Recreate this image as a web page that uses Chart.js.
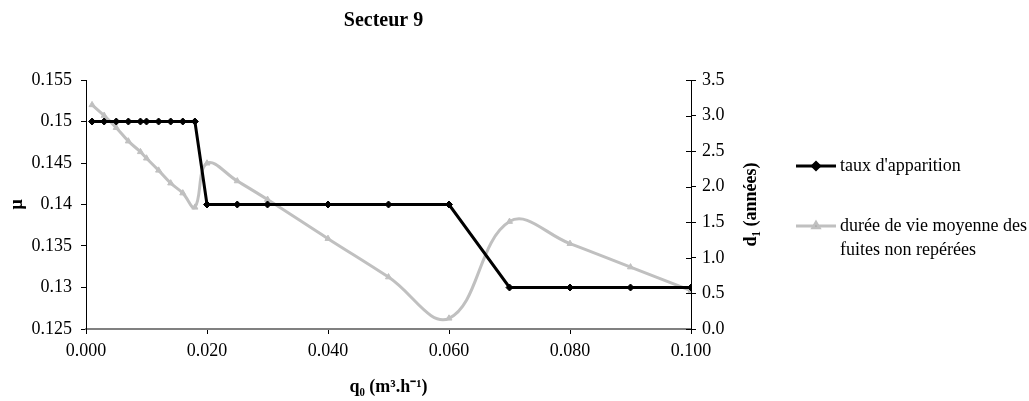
<!DOCTYPE html>
<html lang="fr">
  <head>
    <meta charset="UTF-8" />
    <title>Secteur 9</title>
    <script src="https://cdn.jsdelivr.net/npm/chart.js"></script>
    <style>
      body {
        margin: 0;
        background: #fff;
      }
      #box {
        width: 1029px;
        height: 401px;
        position: relative;
      }
    </style>
  </head>

  <body>
    <div id="box">
      <canvas id="secteurChart"></canvas>
    </div>

    <script>
      // débit q0 (m3/h)
      const q0 = [0.001, 0.003, 0.005, 0.007, 0.009, 0.010, 0.012, 0.014, 0.016, 0.018,
                  0.020, 0.025, 0.030, 0.040, 0.050, 0.060, 0.070, 0.080, 0.090, 0.100];
      // taux d'apparition (axe gauche)
      const taux = [0.15, 0.15, 0.15, 0.15, 0.15, 0.15, 0.15, 0.15, 0.15, 0.15,
                    0.14, 0.14, 0.14, 0.14, 0.14, 0.14, 0.13, 0.13, 0.13, 0.13];
      // durée de vie moyenne (axe droit, années)
      const duree = [3.15, 3.00, 2.83, 2.64, 2.49, 2.40, 2.23, 2.05, 1.91, 1.71,
                     2.33, 2.08, 1.82, 1.27, 0.73, 0.15, 1.51, 1.20, 0.87, 0.54];

      const legendLines = [["taux d'apparition"], ["durée de vie moyenne des", "fuites non repérées"]];
      const rightTitle = "d₁ (années)";

      const serif = "'Liberation Serif', 'Times New Roman', serif";

      // légende, titre de l'axe droit (lu de bas en haut) et graduations croisées
      const extras = {
        id: "extras",
        afterDraw(chart) {
          const ctx = chart.ctx;
          const yR = chart.scales.y1;
          ctx.save();
          ctx.strokeStyle = "#000";
          ctx.lineWidth = 1;
          yR.ticks.forEach((t) => {
            const py = Math.round(yR.getPixelForValue(t.value)) + 0.5;
            ctx.beginPath();
            ctx.moveTo(yR.left - 5, py);
            ctx.lineTo(yR.left, py);
            ctx.stroke();
          });

          ctx.save();
          ctx.translate(751, (chart.chartArea.top + chart.chartArea.bottom) / 2);
          ctx.rotate(-Math.PI / 2);
          ctx.fillStyle = "#000";
          ctx.font = "bold 18px " + serif;
          ctx.textAlign = "center";
          ctx.textBaseline = "middle";
          ctx.fillText(rightTitle, 0, 0);
          ctx.restore();

          const rows = [166, 226];
          chart.data.datasets.forEach((ds, i) => {
            const y = rows[i];
            ctx.strokeStyle = ds.borderColor;
            ctx.lineWidth = 3;
            ctx.beginPath();
            ctx.moveTo(796, y);
            ctx.lineTo(836, y);
            ctx.stroke();
            Chart.helpers.drawPoint(ctx, {
              pointStyle: ds.pointStyle,
              radius: ds.pointRadius,
              borderWidth: 1
            }, 816, y);
            ctx.fillStyle = "#000";
            ctx.font = "18px " + serif;
            ctx.textBaseline = "middle";
            ctx.textAlign = "left";
            legendLines[i].forEach((line, k) => {
              ctx.fillText(line, 840, y + k * 24);
            });
          });
          ctx.restore();
        }
      };

      const ctx = document.getElementById("secteurChart").getContext("2d");
      const chart = new Chart(ctx, {
        type: "line",
        data: {
          datasets: [
            {
              label: "taux d'apparition",
              data: q0.map((x, i) => ({ x: x, y: taux[i] })),
              yAxisID: "y",
              borderColor: "#000",
              backgroundColor: "#000",
              borderWidth: 3,
              pointStyle: "rectRot",
              pointRadius: 3.5,
              pointBorderWidth: 1,
              tension: 0
            },
            {
              label: "durée de vie moyenne des fuites non repérées",
              data: q0.map((x, i) => ({ x: x, y: duree[i] })),
              yAxisID: "y1",
              borderColor: "#c0c0c0",
              backgroundColor: "#c0c0c0",
              borderWidth: 3,
              pointStyle: "triangle",
              pointRadius: 3.5,
              pointBorderWidth: 1,
              tension: 0.4
            }
          ]
        },
        options: {
          responsive: true,
          maintainAspectRatio: false,
          animation: false,
          layout: { padding: { left: 0, right: 262, top: 0, bottom: 0 } },
          plugins: {
            legend: { display: false },
            tooltip: { enabled: false },
            title: {
              display: true,
              text: "Secteur 9",
              color: "#000",
              font: { family: serif, size: 20, weight: "bold" },
              padding: { top: 9, bottom: 47 }
            }
          },
          scales: {
            x: {
              type: "linear",
              min: 0,
              max: 0.1,
              ticks: {
                stepSize: 0.02,
                color: "#000",
                padding: 6,
                maxRotation: 0,
                font: { family: serif, size: 18 },
                callback: (v) => v.toFixed(3)
              },
              grid: { drawOnChartArea: false, tickLength: 5, color: "#000" },
              border: { color: "#808080", width: 2 },
              title: {
                display: true,
                text: "q₀ (m³.h⁻¹)",
                color: "#000",
                font: { family: serif, size: 18, weight: "bold" },
                padding: { top: 0, bottom: 3 }
              },
              afterFit: (s) => { s.height = 72; }
            },
            y: {
              position: "left",
              min: 0.125,
              max: 0.155,
              ticks: {
                stepSize: 0.005,
                color: "#000",
                padding: 9,
                font: { family: serif, size: 18 },
                callback: (v) => String(Number(v.toFixed(3)))
              },
              grid: { drawOnChartArea: false, tickLength: 5, color: "#000" },
              border: { color: "#000" },
              title: {
                display: true,
                text: "μ",
                color: "#000",
                font: { family: serif, size: 18, weight: "bold" },
                padding: { top: 7, bottom: 0 }
              },
              afterFit: (s) => { s.width = 86; }
            },
            y1: {
              position: "right",
              min: 0,
              max: 3.5,
              ticks: {
                stepSize: 0.5,
                color: "#000",
                padding: 6,
                font: { family: serif, size: 18 },
                callback: (v) => v.toFixed(1)
              },
              grid: { drawOnChartArea: false, tickLength: 5, color: "#000" },
              border: { color: "#000" },
              title: { display: false },
              afterFit: (s) => { s.width = 76; }
            }
          }
        },
        plugins: [extras]
      });
    </script>
  </body>
</html>
